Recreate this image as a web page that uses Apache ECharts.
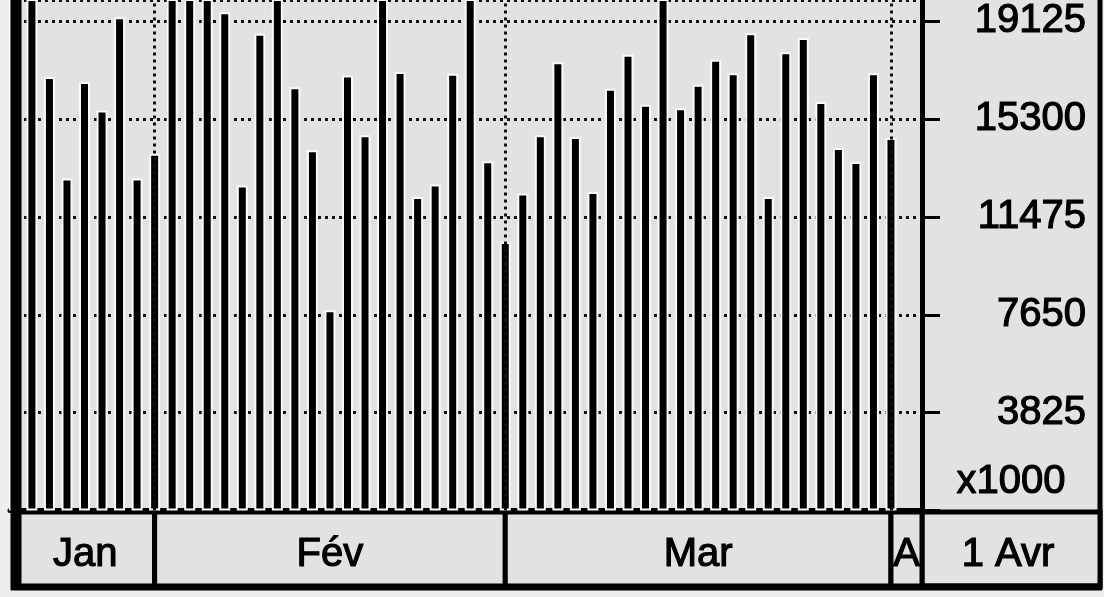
<!DOCTYPE html>
<html lang="fr">
<head>
<meta charset="UTF-8">
<title>x1000 - Jan / Fév / Mar</title>
<script src="https://cdn.jsdelivr.net/npm/echarts@6/dist/echarts.min.js"></script>
<style>
  html, body { margin: 0; padding: 0; background: #eeeeee; }
  #chart { width: 1104px; height: 597px; }
</style>
</head>
<body>
<div id="chart"></div>
<script>
// valeurs journalières (unités brutes, l'axe affiche x1000)
const values = [
  21000, 21200, 16950, 12980, 16750, 15640, 19290, 12980, 13950, 21300,
  21100, 21400, 19480, 12710, 18640, 21200, 16550, 14080, 7830, 17010,
  14670, 21300, 17140, 12260, 12740, 17080, 21200, 13650, 10500, 12390,
  14670, 17530, 14600, 12450, 16490, 17820, 15860, 21100, 15730, 16650,
  17620, 17100, 18660, 12260, 17920, 18470, 15970, 14170, 13620, 17100,
  14560
];

// bandeau des mois (début / fin en index de jour)
const months = ['Jan', 'Fév', 'Mar', 'A'];
const monthStart = [0.09, 8, 28, 50];
const monthEnd = [8, 28, 50, 51.77];
const monthLines = [8, 28, 50];

// axe des valeurs (le haut du graphique est coupé)
const yStep = 3825;
const yTop = 19960;
const xMin = -0.25;
const xMax = 51.77;

const gray = '#e2e2e2';
const font = '"Liberation Sans", Arial, sans-serif';
const dotted = { type: [3, 4], width: 3, color: '#111' };

const chart = echarts.init(document.getElementById('chart'));

const option = {
  animation: false,
  backgroundColor: '#eeeeee',
  grid: [
    { left: 10, right: 182, top: 0, bottom: 86.6, show: true, backgroundColor: gray, borderWidth: 0 },
    { left: 10, right: 182, top: 512, height: 74 }
  ],
  xAxis: [
    {
      type: 'value', gridIndex: 0, min: xMin, max: xMax,
      axisLine: { show: true, onZero: false, lineStyle: { color: '#000', width: 5 } },
      axisTick: { show: false }, axisLabel: { show: false }, splitLine: { show: false }
    },
    {
      type: 'value', gridIndex: 1, min: xMin, max: xMax, show: false
    }
  ],
  yAxis: [
    {
      type: 'value', gridIndex: 0, position: 'right', min: 0, max: yTop, interval: yStep,
      axisLine: { show: true, onZero: false, lineStyle: { color: '#000', width: 5 } },
      axisTick: { show: true, length: 18, lineStyle: { color: '#000', width: 3 } },
      axisLabel: {
        color: '#000', fontSize: 40, fontFamily: font, align: 'right', margin: 164,
        textBorderColor: '#000', textBorderWidth: 1.2,
        showMaxLabel: false,
        formatter: v => (v > 0 && v % yStep === 0) ? String(v) : ''
      },
      splitLine: { show: true, lineStyle: dotted }
    },
    {
      type: 'value', gridIndex: 1, min: 0, max: 1, show: false
    }
  ],
  series: [
    {
      type: 'bar',
      xAxisIndex: 0, yAxisIndex: 0,
      barWidth: 11,
      clip: true,
      itemStyle: { color: '#000', borderColor: '#fafafa', borderWidth: 2 },
      data: values.map((v, i) => [i, v]),
      markLine: {
        silent: true, symbol: 'none', label: { show: false },
        lineStyle: dotted,
        data: monthLines.map(x => ({ xAxis: x }))
      }
    },
    {
      type: 'custom',
      xAxisIndex: 1, yAxisIndex: 1,
      data: months.map((m, i) => [monthStart[i], monthEnd[i], i]),
      renderItem: function (params, api) {
        const p0 = api.coord([api.value(0), 1]);
        const p1 = api.coord([api.value(1), 0]);
        return {
          type: 'group',
          children: [
            {
              type: 'rect',
              shape: { x: p0[0], y: p0[1], width: p1[0] - p0[0], height: p1[1] - p0[1] },
              style: { fill: gray, stroke: '#000', lineWidth: 5 }
            },
            {
              type: 'text',
              style: {
                text: months[api.value(2)],
                x: (p0[0] + p1[0]) / 2, y: (p0[1] + p1[1]) / 2 + 6,
                align: 'center', verticalAlign: 'middle',
                fontSize: 40, fontFamily: font, fill: '#000',
                stroke: '#000', lineWidth: 1.2
              }
            }
          ]
        };
      }
    }
  ],
  graphic: [
    { type: 'rect', z: -10, shape: { x: 922, y: 0, width: 178, height: 588 }, style: { fill: gray } },
    { type: 'line', z: 100, shape: { x1: 16, y1: 0, x2: 16, y2: 590 }, style: { stroke: '#000', lineWidth: 11 } },
    { type: 'line', shape: { x1: 1100, y1: 0, x2: 1100, y2: 590 }, style: { stroke: '#000', lineWidth: 5 } },
    { type: 'rect', shape: { x: 922, y: 512, width: 178, height: 74 }, style: { fill: gray, stroke: '#000', lineWidth: 5 } },
    { type: 'line', shape: { x1: 11, y1: 587, x2: 1102, y2: 587 }, style: { stroke: '#000', lineWidth: 7 } },
    {
      type: 'text', x: 1011, y: 482,
      style: { text: 'x1000', align: 'center', verticalAlign: 'middle', fontSize: 40, fontFamily: font, fill: '#000', stroke: '#000', lineWidth: 1.2 }
    },
    {
      type: 'text', x: 1008, y: 555,
      style: { text: '1 Avr', align: 'center', verticalAlign: 'middle', fontSize: 40, fontFamily: font, fill: '#000', stroke: '#000', lineWidth: 1.2 }
    }
  ]
};

chart.setOption(option);
</script>
</body>
</html>
